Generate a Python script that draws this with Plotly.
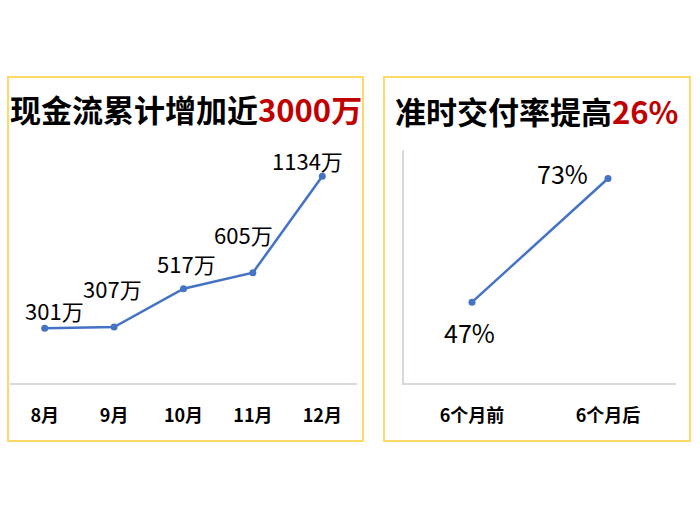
import plotly.graph_objects as go

# ---- data ----
months = ["8月", "9月", "10月", "11月", "12月"]
cash_flow = [301, 307, 517, 605, 1134]
cash_labels = ["301万", "307万", "517万", "605万", "1134万"]

periods = ["6个月前", "6个月后"]
on_time_rate = [47, 73]
rate_labels = ["47%", "73%"]

# ---- style ----
W, H = 700, 525
FONT = "Noto Sans CJK SC, Noto Sans, sans-serif"
LINE_COLOR = "#4472C4"
AXIS_COLOR = "#D9D9D9"
BORDER_COLOR = "#FFD966"
RED = "#C00000"

def px(x):
    return x / W

def py(y):
    return 1 - y / H

cash_offsets = [(10, -18), (-2, -39), (3, -26), (-9, -39), (-15, -16)]
rate_offsets = [(-3, 30), (-46, -6)]

fig = go.Figure()

fig.add_trace(go.Scatter(
    x=months, y=cash_flow, mode="lines+markers",
    line=dict(color=LINE_COLOR, width=2.5),
    marker=dict(color=LINE_COLOR, size=7),
    xaxis="x", yaxis="y", hoverinfo="skip", showlegend=False,
))
fig.add_trace(go.Scatter(
    x=periods, y=on_time_rate, mode="lines+markers",
    line=dict(color=LINE_COLOR, width=2.5),
    marker=dict(color=LINE_COLOR, size=7),
    xaxis="x2", yaxis="y2", hoverinfo="skip", showlegend=False,
))

annotations = []
for m, v, t, (dx, dy) in zip(months, cash_flow, cash_labels, cash_offsets):
    annotations.append(dict(x=m, y=v, xref="x", yref="y", text=t, showarrow=False,
                            xshift=dx, yshift=-dy, font=dict(family=FONT, size=22, color="#000000")))
for p, v, t, (dx, dy) in zip(periods, on_time_rate, rate_labels, rate_offsets):
    annotations.append(dict(x=p, y=v, xref="x2", yref="y2", text=t, showarrow=False,
                            xshift=dx, yshift=-dy, font=dict(family=FONT, size=25, color="#000000")))

# titles
annotations.append(dict(
    x=px(186.5), y=py(109), xref="paper", yref="paper", showarrow=False,
    text="<b>现金流累计增加近<span style='color:%s'>3000万</span></b>" % RED,
    font=dict(family=FONT, size=31, color="#000000"), xanchor="center", yanchor="middle"))
annotations.append(dict(
    x=px(536), y=py(110), xref="paper", yref="paper", showarrow=False,
    text="<b>准时交付率提高<span style='color:%s'>26%%</span></b>" % RED,
    font=dict(family=FONT, size=31, color="#000000"), xanchor="center", yanchor="middle"))

shapes = [
    dict(type="rect", xref="paper", yref="paper", x0=px(8), x1=px(363), y0=py(441), y1=py(77),
         line=dict(color=BORDER_COLOR, width=2), layer="below"),
    dict(type="rect", xref="paper", yref="paper", x0=px(384), x1=px(690), y0=py(441), y1=py(77),
         line=dict(color=BORDER_COLOR, width=2), layer="below"),
]

tickfont = dict(family=FONT, size=18, color="#000000", weight="bold")

fig.update_layout(
    width=W, height=H, margin=dict(l=0, r=0, t=0, b=0),
    paper_bgcolor="white", plot_bgcolor="white",
    font=dict(family=FONT),
    xaxis=dict(domain=[px(10), px(357)], range=[-0.5, len(months) - 0.5],
               showgrid=False, zeroline=False,
               showline=True, linecolor=AXIS_COLOR, linewidth=1.5,
               tickfont=tickfont, ticks="", ticklabelstandoff=16, fixedrange=True),
    yaxis=dict(domain=[py(383), py(146)], range=[0, 1300], showgrid=False, zeroline=False,
               showline=False, showticklabels=False, fixedrange=True),
    xaxis2=dict(domain=[px(404), px(676)], range=[-0.5, len(periods) - 0.5],
                anchor="y2", showgrid=False, zeroline=False,
                showline=True, linecolor=AXIS_COLOR, linewidth=1.5,
                tickfont=tickfont, ticks="", ticklabelstandoff=16, fixedrange=True),
    yaxis2=dict(domain=[py(383), py(150)], range=[30, 79], anchor="x2", showgrid=False,
                zeroline=False, showline=True, linecolor=AXIS_COLOR, linewidth=1.5,
                showticklabels=False, fixedrange=True),
    annotations=annotations, shapes=shapes,
)

fig.write_html("out.html")
